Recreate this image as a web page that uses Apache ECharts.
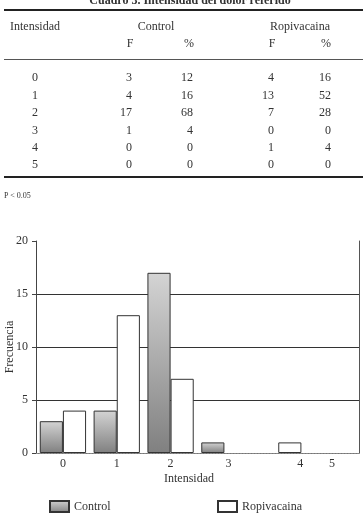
<!DOCTYPE html>
<html>
<head>
<meta charset="utf-8">
<script src="https://cdn.jsdelivr.net/npm/echarts@6/dist/echarts.min.js"></script>
<style>
html,body{margin:0;padding:0;background:#fff;}
body{width:364px;height:513px;position:relative;overflow:hidden;font-family:'Liberation Serif',serif;color:#333;}
#chart{position:absolute;left:0;top:0;width:364px;height:513px;}
.t{position:absolute;font-size:12px;line-height:14px;white-space:nowrap;z-index:2;}
.c{transform:translateX(-50%);}
.r{transform:translateX(-100%);}
.hl{position:absolute;left:4px;width:359px;background:#222;z-index:2;}
</style>
</head>
<body>
<div id="chart"></div>
<div id="table"></div>
<script>
// ---- data ----
const categories = ['0', '1', '2', '3', '4', '5'];
const controlF = [3, 4, 17, 1, 0, 0];
const controlPct = [12, 16, 68, 4, 0, 0];
const ropiF = [4, 13, 7, 0, 1, 0];
const ropiPct = [16, 52, 28, 0, 4, 0];
const yTicks = [0, 5, 10, 15, 20];
const seriesNames = ['Control', 'Ropivacaina'];
const titleText = 'Cuadro 3. Intensidad del dolor referido';
const noteText = 'P < 0.05';

// ---- table (HTML text) ----
const tb = document.getElementById('table');
function addText(txt, x, y, cls, extra) {
  const d = document.createElement('div');
  d.className = 't ' + (cls || '');
  d.textContent = txt;
  d.style.left = x + 'px';
  d.style.top = (y - 7) + 'px';
  if (extra) Object.assign(d.style, extra);
  tb.appendChild(d);
}
function addLine(y, h, color) {
  const d = document.createElement('div');
  d.className = 'hl';
  d.style.top = y + 'px';
  d.style.height = h + 'px';
  if (color) d.style.background = color;
  tb.appendChild(d);
}
addText(titleText, 190, 0, 'c', {fontWeight: 'bold'});
addLine(9, 2);
addText('Intensidad', 10, 26, '');
addText('Control', 156, 26, 'c');
addText(seriesNames[1], 300, 26, 'c');
addText('F', 130, 43, 'c');
addText('%', 189, 43, 'c');
addText('F', 272, 43, 'c');
addText('%', 326, 43, 'c');
addLine(59, 1, '#555');
const rowY = [77, 95, 112, 130, 147, 164];
categories.forEach((c, i) => {
  addText(c, 35, rowY[i], 'c');
  addText(String(controlF[i]), 132, rowY[i], 'r');
  addText(String(controlPct[i]), 193, rowY[i], 'r');
  addText(String(ropiF[i]), 274, rowY[i], 'r');
  addText(String(ropiPct[i]), 331, rowY[i], 'r');
});
addLine(176, 2);
addText(noteText, 4, 196, '', {fontSize: '8px'});

// ---- chart ----
const font = 'Liberation Serif';
const chart = echarts.init(document.getElementById('chart'), null, {renderer: 'canvas'});
const ctrlGrad = new echarts.graphic.LinearGradient(0, 0, 0, 1, [
  {offset: 0, color: '#d4d4d4'}, {offset: 1, color: '#808080'}
]);
const xData = categories.map(c => {
  if (c === '4') return {value: c, textStyle: {padding: [0, 0, 0, 44]}};
  if (c === '3') return {value: c, textStyle: {padding: [0, 0, 0, 8]}};
  return c;
});
const hideZero = arr => arr.map(v => (v === 0 ? '-' : v));
chart.setOption({
  animation: false,
  backgroundColor: 'transparent',
  textStyle: {fontFamily: font},
  grid: {left: 36, right: 5, top: 241, bottom: 60, containLabel: false, outerBoundsMode: 'none'},
  legend: [
    {data: [seriesNames[0]], icon: 'rect', left: 49, top: 500, padding: 0, itemWidth: 19, itemHeight: 11, itemGap: 5,
     textStyle: {fontFamily: font, fontSize: 12, color: '#333'}},
    {data: [seriesNames[1]], icon: 'rect', left: 217, top: 500, padding: 0, itemWidth: 19, itemHeight: 11,
     textStyle: {fontFamily: font, fontSize: 12, color: '#333'}}
  ],
  xAxis: [
    {type: 'category', data: xData, position: 'bottom',
     axisLine: {show: true, lineStyle: {color: '#555', width: 1}},
     axisTick: {show: false},
     axisLabel: {fontFamily: font, fontSize: 12, color: '#333', margin: 5},
     name: 'Intensidad', nameLocation: 'middle', nameGap: 20, nameMoveOverlap: false,
     nameTextStyle: {fontFamily: font, fontSize: 12, color: '#333', padding: [0, 17, 0, 0]}},
    {type: 'category', data: categories, position: 'top',
     axisLine: {show: true, lineStyle: {color: '#888', width: 1, type: [2, 1]}},
     axisTick: {show: false}, axisLabel: {show: false}}
  ],
  yAxis: [
    {type: 'value', min: yTicks[0], max: yTicks[yTicks.length - 1], interval: 5,
     axisLine: {show: true, lineStyle: {color: '#444', width: 1}},
     axisTick: {show: true, inside: false, length: 4, lineStyle: {color: '#444'}},
     axisLabel: {fontFamily: font, fontSize: 12, color: '#333', margin: 8},
     splitLine: {show: true, lineStyle: {color: ['transparent', '#333', '#333', '#333', 'transparent'], width: 1}},
     name: 'Frecuencia', nameLocation: 'middle', nameGap: 20, nameMoveOverlap: false,
     nameTextStyle: {fontFamily: font, fontSize: 12, color: '#333'}},
    {type: 'value', min: 0, max: 20, interval: 5, position: 'right',
     axisLine: {show: true, lineStyle: {color: '#555', width: 1}},
     axisTick: {show: false}, axisLabel: {show: false}, splitLine: {show: false}}
  ],
  series: [
    {name: seriesNames[0], type: 'bar', data: hideZero(controlF), barGap: '0%', barCategoryGap: '14%',
     itemStyle: {color: ctrlGrad, borderColor: '#333', borderWidth: 1}},
    {name: seriesNames[1], type: 'bar', data: hideZero(ropiF), barGap: '0%', barCategoryGap: '14%',
     itemStyle: {color: '#ffffff', borderColor: '#333', borderWidth: 1}}
  ]
});
</script>
</body>
</html>
